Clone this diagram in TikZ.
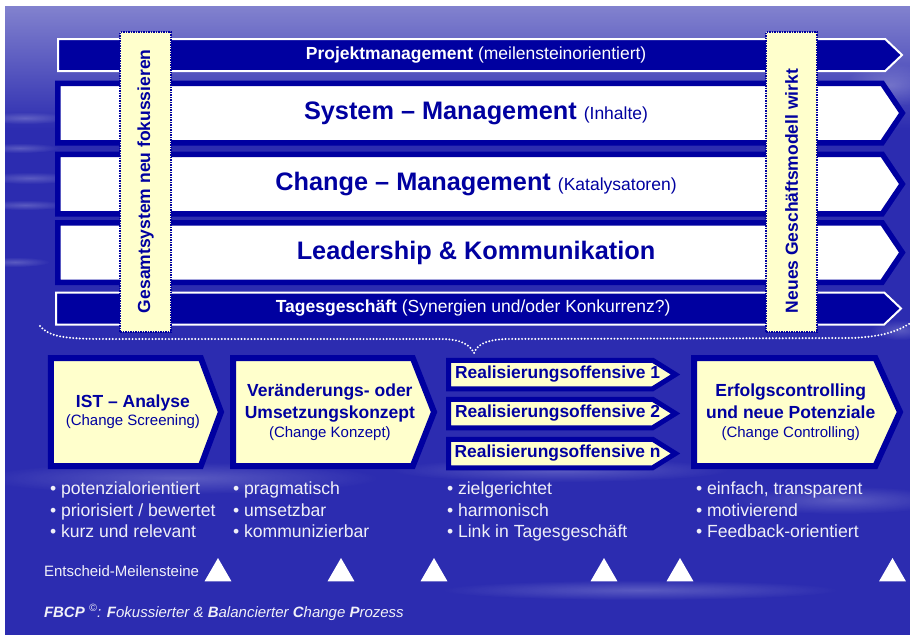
\documentclass[tikz,border=0pt]{standalone}
\usepackage{fontspec}
\setmainfont{Liberation Sans}
\usetikzlibrary{shapes.symbols, shapes.geometric, positioning, fadings}

\definecolor{fbblue}{RGB}{0,0,160}
\definecolor{fbyellow}{RGB}{255,255,204}
\definecolor{bgdark}{RGB}{44,44,176}
\definecolor{bgtop}{RGB}{130,130,206}
\definecolor{softwhite}{RGB}{240,240,248}
\tikzfading[name=softspot, inner color=transparent!0, outer color=transparent!100]

\begin{document}
\begin{tikzpicture}[
    x=1pt, y=-1pt,
    every node/.style={inner sep=0pt, outer sep=0pt},
    % wide white chevrons with blue frame
    band/.style={shape=signal, signal to=east, signal pointer angle=112,
        draw=fbblue, line width=5.5pt, fill=white,
        minimum width=844.5, minimum height=59.5},
    bandtext/.style={text=fbblue, font=\fontsize{25.3}{28}\selectfont},
    % narrow blue chevrons with white frame
    thinband/.style={shape=signal, signal to=east, signal pointer angle=87,
        draw=white, line width=2pt, fill=fbblue,
        minimum width=844, minimum height=32},
    thintext/.style={text=white, font=\fontsize{17.5}{20}\selectfont},
    focusbar/.style={draw=fbblue, densely dotted, line width=1.5pt,
        fill=fbyellow, minimum width=51, minimum height=300},
    bartext/.style={rotate=90, anchor=west, text=fbblue,
        font=\bfseries\fontsize{17.5}{20}\selectfont},
    stage/.style={shape=signal, signal to=east, draw=fbblue, line width=6pt,
        fill=fbyellow, minimum height=108},
    stagetext/.style={text=fbblue, align=center,
        font=\fontsize{17.5}{22}\selectfont},
    offensive/.style={shape=signal, signal to=east, signal pointer angle=64,
        draw=fbblue, line width=5pt, fill=fbyellow,
        minimum width=227, minimum height=28.5},
    offtext/.style={text=fbblue, font=\bfseries\fontsize{17.4}{20}\selectfont},
    bullets/.style={anchor=north west, align=left, text=softwhite,
        font=\fontsize{17.6}{21.5}\selectfont},
    milestone/.style={regular polygon, regular polygon sides=3,
        fill=white, minimum size=31},
    small/.style={font=\fontsize{15}{18}\selectfont}
]

    % Background
    \useasboundingbox (0,0) rectangle (910,635);
    \fill[bgdark] (5,6) rectangle (910,635);
    \shade[top color=bgtop, bottom color=bgdark] (5,6) rectangle (910,130);
    \foreach \cx/\cy/\rx/\ry in {25/118/45/6, 20/148/40/5, 30/178/50/6,
        25/205/45/5, 15/262/35/5, 890/85/45/22, 900/330/30/10,
        180/478/200/16, 560/470/170/12, 840/500/110/14, 640/590/200/10} {
        \fill[white, opacity=0.22, path fading=softspot]
            (\cx,\cy) ellipse [x radius=\rx, y radius=\ry];
    }

    % Layers of the system (top part)
    \node[thinband, label={[thintext, xshift=4.5pt]center:{\textbf{Projektmanagement}
        (meilensteinorientiert)}}] (projekt) at (471.6,55) {};
    \foreach \name/\ypos/\main/\extra in {
        system/113/{System -- Management}/{(Inhalte)},
        change/184/{Change -- Management}/{(Katalysatoren)},
        leader/252.5/{Leadership \& Kommunikation}/{}} {
        \node[band, label={[bandtext, xshift=6pt]center:{\textbf{\main}
            {\fontsize{17.5}{20}\selectfont\extra}}}] (\name) at (470,\ypos) {};
    }
    \node[thinband, minimum width=845, label={[thintext, xshift=3pt]center:{\textbf{Tagesgeschäft}
        (Synergien und/oder Konkurrenz?)}}] (tages) at (470.1,308.5) {};

    % Vertical focus bars
    \node[focusbar] (gesamt) at (145.5,182) {};
    \node[bartext] (gesamttext) at ([yshift=19pt]gesamt.south)
        {Gesamtsystem neu fokussieren};
    \node[focusbar] (neues) at (791.5,182) {};
    \node[bartext] (neuestext) at ([yshift=19pt]neues.south)
        {Neues Geschäftsmodell wirkt};

    % Brace over the phases
    \coordinate (braceL) at (40,326);
    \coordinate (braceT) at (474,353);
    \coordinate (braceR) at (912,322);
    \draw[white, line width=2.2pt, line cap=round, dash pattern=on 0pt off 3.3pt]
        (braceL) .. controls (50,338) and (70,339) .. (110,339) -- (440,339)
        .. controls (462,339) and (470,345) .. (braceT)
        .. controls (478,344) and (486,340) .. (505,339) -- (850,338)
        .. controls (885,337) and (900,330) .. (braceR);

    % Phases of the change process
    \node[stage, signal pointer angle=139, minimum width=170,
        label={[stagetext, xshift=7pt]center:{\textbf{IST -- Analyse}\\[-4pt]
        {\fontsize{15}{18}\selectfont(Change Screening)}}}] (ist) at (125.9,412) {};
    \node[stage, signal pointer angle=137, minimum width=201,
        label={[stagetext, xshift=7pt]center:{\textbf{Veränderungs- oder}\\
        \textbf{Umsetzungskonzept}\\[-3pt]
        {\fontsize{15}{18}\selectfont(Change Konzept)}}}] (konzept) at (322.9,412) {};
    \foreach \i/\ypos in {1/374.5, 2/413.5, n/453.5} {
        \node[offensive, label={[offtext, xshift=7pt]center:{Realisierungsoffensive \i}}]
            (real\i) at (550.6,\ypos) {};
    }
    \node[stage, signal pointer angle=131, minimum width=206,
        label={[stagetext, xshift=6pt]center:{\textbf{Erfolgscontrolling}\\
        \textbf{und neue Potenziale}\\[-3pt]
        {\fontsize{15}{18}\selectfont(Change Controlling)}}}] (erfolg) at (784.7,412) {};

    % Criteria per phase
    \node[bullets] (crit1) at (50,482)
        {• potenzialorientiert\\• priorisiert / bewertet\\• kurz und relevant};
    \node[bullets] (crit2) at (233,482)
        {• pragmatisch\\• umsetzbar\\• kommunizierbar};
    \node[bullets] (crit3) at (447,482)
        {• zielgerichtet\\• harmonisch\\• Link in Tagesgeschäft};
    \node[bullets] (crit4) at (696,482)
        {• einfach, transparent\\• motivierend\\• Feedback-orientiert};

    % Decision milestones
    \node[small, text=softwhite, anchor=base west] (meilen) at (44,576)
        {Entscheid-Meilensteine};
    \foreach \i/\xpos in {1/218, 2/341, 3/434, 4/604, 5/680, 6/892.5} {
        \node[milestone] (ms\i) at (\xpos,573.5) {};
    }

    % Footer
    \node[small, text=softwhite, anchor=base west] (fbcp) at (44,617)
        {\itshape\textbf{FBCP} \textsuperscript{©}: \textbf{F}okussierter \&
         \textbf{B}alancierter \textbf{C}hange \textbf{P}rozess};

\end{tikzpicture}
\end{document}
